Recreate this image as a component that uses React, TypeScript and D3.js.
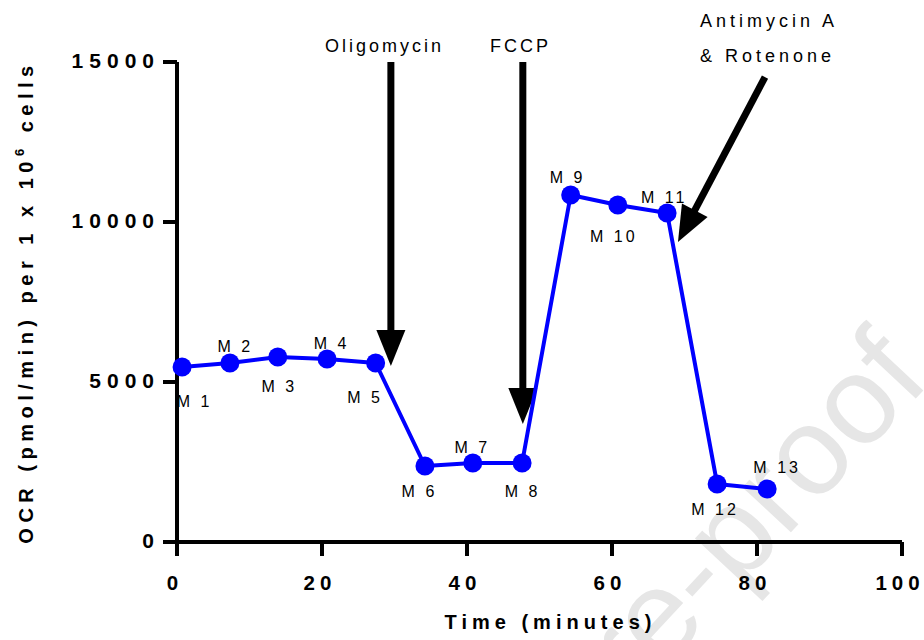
import React from "react";
import * as d3 from "d3";

// ---- data ----
const times = [0.7, 7.3, 13.9, 20.7, 27.4, 34.2, 40.8, 47.6, 54.3, 60.8, 67.6, 74.5, 81.4];
const ocr = [5470, 5594, 5781, 5719, 5594, 2375, 2469, 2469, 10844, 10531, 10281, 1813, 1656];
const pointLabels = ["M 1", "M 2", "M 3", "M 4", "M 5", "M 6", "M 7", "M 8", "M 9", "M 10", "M 11", "M 12", "M 13"];
const xTicks = [0, 20, 40, 60, 80, 100];
const yTicks = [0, 5000, 10000, 15000];

// label placement (pixel offsets from marker)
const labelOffsets: [number, number][] = [
  [11, 40], [4, -11], [0, 35], [3, -10], [-12, 40], [-7, 31], [-2, -10],
  [-1, 34], [-4.5, -12], [-5.5, 37], [-4.5, -10], [-3.5, 31], [8.5, -16],
];

// injection arrows: [startTime, startValue, tipTime, tipValue]
const arrowNames = ["Oligomycin", "FCCP", "Antimycin A & Rotenone"];
const arrowGeom: [number, number, number, number][] = [
  [29.5, 15000, 29.5, 5500],
  [47.7, 15000, 47.7, 3690],
  [81.1, 14530, 69.1, 9375],
];

const W = 924;
const H = 640;

export default function App() {
  const x = d3.scaleLinear().domain([0, 100]).range([177, 902]);
  const y = d3.scaleLinear().domain([0, 15000]).range([542, 62]);
  const line = d3
    .line<number>()
    .x((_, i) => x(times[i]))
    .y((d) => y(d));

  const font = "Arial, 'Liberation Sans', Helvetica, sans-serif";
  const tickLs = 6;

  const arrow = (g: [number, number, number, number], key: number) => {
    const x0 = x(g[0]), y0 = y(g[1]), x1 = x(g[2]), y1 = y(g[3]);
    const dx = x1 - x0, dy = y1 - y0;
    const len = Math.hypot(dx, dy);
    const ux = dx / len, uy = dy / len;
    const headLen = 36, headHalf = 14.5;
    const bx = x1 - ux * headLen, by = y1 - uy * headLen;
    const px = -uy, py = ux;
    return (
      <g key={key}>
        <line x1={x0} y1={y0} x2={bx + ux * 1} y2={by + uy * 1} stroke="#000" strokeWidth={7} />
        <polygon
          points={`${bx + px * headHalf},${by + py * headHalf} ${bx - px * headHalf},${by - py * headHalf} ${x1},${y1}`}
          fill="#000"
        />
      </g>
    );
  };

  return (
    <svg width={W} height={H} style={{ position: "absolute", left: 0, top: 0, background: "#fff" }}>
      {/* watermark */}
      <text
        x={932}
        y={381}
        transform="rotate(-47 932 381)"
        textAnchor="end"
        fontFamily={font}
        fontSize={125}
        fill="#e6e6e6"
      >
        Journal Pre-proof
      </text>

      {/* axes */}
      <line x1={x(0)} y1={y(0)} x2={x(100)} y2={y(0)} stroke="#000" strokeWidth={4} />
      <line x1={x(0)} y1={y(0)} x2={x(0)} y2={y(15000)} stroke="#000" strokeWidth={4} />
      {xTicks.map((t) => (
        <g key={"xt" + t}>
          <line x1={x(t)} y1={y(0)} x2={x(t)} y2={y(0) + 14} stroke="#000" strokeWidth={4} />
          <text
            x={x(t) - 2}
            y={590}
            textAnchor="middle"
            fontFamily={font}
            fontWeight="bold"
            fontSize={20.5}
            letterSpacing={5}
            fill="#000"
          >
            {t}
          </text>
        </g>
      ))}
      {yTicks.map((v) => (
        <g key={"yt" + v}>
          <line x1={x(0) - 14} y1={y(v)} x2={x(0)} y2={y(v)} stroke="#000" strokeWidth={4} />
          <text
            x={154 + tickLs}
            y={y(v) + 6}
            textAnchor="end"
            fontFamily={font}
            fontWeight="bold"
            fontSize={21}
            letterSpacing={tickLs}
            fill="#000"
          >
            {v}
          </text>
        </g>
      ))}

      {/* axis titles */}
      <text
        x={548 + 2.5}
        y={629}
        textAnchor="middle"
        fontFamily={font}
        fontWeight="bold"
        fontSize={20}
        letterSpacing={5}
        fill="#000"
      >
        Time (minutes)
      </text>
      <text
        transform="translate(33,302) rotate(-90)"
        textAnchor="middle"
        fontFamily={font}
        fontWeight="bold"
        fontSize={20}
        letterSpacing={5.5}
        fill="#000"
      >
        OCR (pmol/min) per 1 x 10
        <tspan fontSize={13} dy={-9}>6</tspan>
        <tspan dy={9}> cells</tspan>
      </text>

      {/* arrows */}
      {arrowGeom.map((g, i) => arrow(g, i))}
      <text x={383 + 1.5} y={52} textAnchor="middle" fontFamily={font} fontSize={18} letterSpacing={3} fill="#000">
        {arrowNames[0]}
      </text>
      <text x={519 + 1.5} y={52} textAnchor="middle" fontFamily={font} fontSize={18} letterSpacing={3} fill="#000">
        {arrowNames[1]}
      </text>
      <text x={700} y={27} fontFamily={font} fontSize={18} letterSpacing={4} fill="#000">
        Antimycin A
      </text>
      <text x={700} y={62} fontFamily={font} fontSize={18} letterSpacing={4} fill="#000">
        &amp; Rotenone
      </text>

      {/* data line */}
      <path d={line(ocr) || ""} fill="none" stroke="#0000ff" strokeWidth={4} strokeLinejoin="round" />
      {ocr.map((v, i) => (
        <circle key={"p" + i} cx={x(times[i])} cy={y(v)} r={9.5} fill="#0000ff" />
      ))}
      {ocr.map((v, i) => (
        <text
          key={"l" + i}
          x={x(times[i]) + labelOffsets[i][0] + 1.5}
          y={y(v) + labelOffsets[i][1]}
          textAnchor="middle"
          fontFamily={font}
          fontSize={16}
          letterSpacing={3}
          fill="#000"
        >
          {pointLabels[i]}
        </text>
      ))}
    </svg>
  );
}
